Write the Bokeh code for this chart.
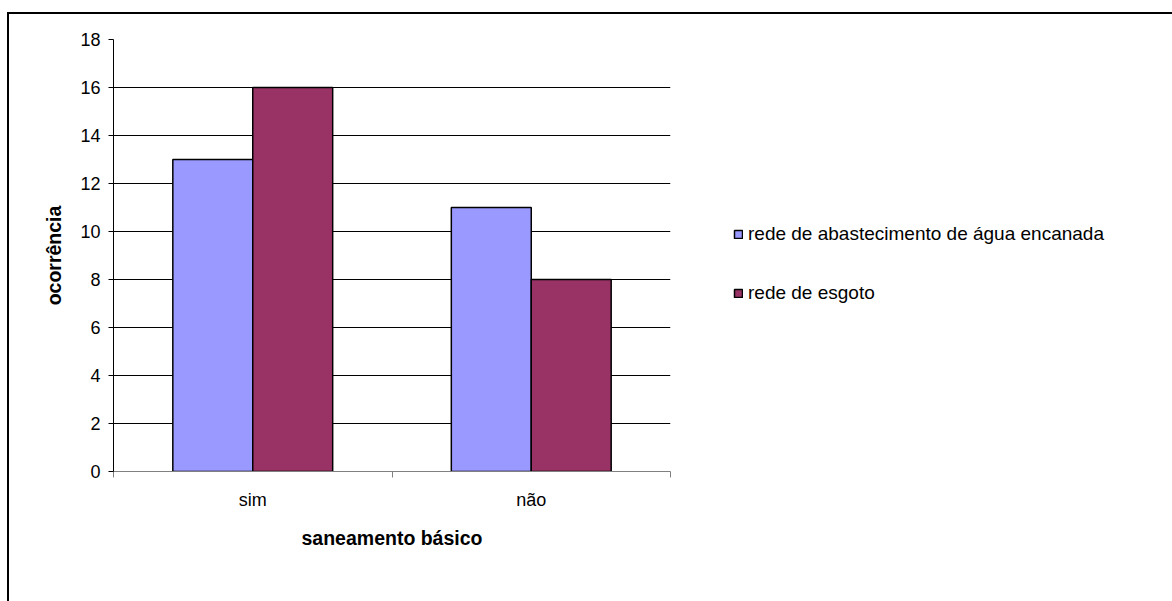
from bokeh.plotting import figure
from bokeh.models import (FixedTicker, Legend, LegendItem, ColumnDataSource,
                          Range1d, InlineStyleSheet)
from bokeh.transform import dodge
from bokeh.embed import file_html
from bokeh.resources import INLINE

# ---- data ----
categories = ["sim", "não"]
agua = [13, 11]
esgoto = [16, 8]
series_names = ["rede de abastecimento de água encanada", "rede de esgoto"]
y_ticks = [0, 2, 4, 6, 8, 10, 12, 14, 16, 18]
x_title = "saneamento básico"
y_title = "ocorrência"

FONT = "Liberation Sans"
x_centers = [i + 0.5 for i in range(len(categories))]
x_bounds = list(range(len(categories) + 1))
src = ColumnDataSource(dict(x=x_centers, agua=agua, esgoto=esgoto))

border_css = InlineStyleSheet(css="""
:host { overflow: hidden; }
:host::after { content: ''; position: absolute; left: 7px; top: 12px;
  right: -20px; bottom: -20px; border: 2.5px solid black;
  pointer-events: none; z-index: 10; }
""")

p = figure(frame_width=557, frame_height=432,
           x_range=Range1d(0, len(categories)), y_range=Range1d(0, max(y_ticks)),
           output_backend="svg", toolbar_location=None,
           min_border_left=113, min_border_right=502,
           min_border_top=39, min_border_bottom=130,
           stylesheets=[border_css])
p.outline_line_color = None
p.background_fill_color = "white"
p.border_fill_color = "white"

bw = 0.287
r1 = p.vbar(x=dodge("x", -bw / 2, range=p.x_range), top="agua", width=bw, bottom=0,
            source=src, fill_color="#9999FF", line_color="black", line_width=1.5)
r2 = p.vbar(x=dodge("x", bw / 2, range=p.x_range), top="esgoto", width=bw, bottom=0,
            source=src, fill_color="#993366", line_color="black", line_width=1.5)

# grid
p.xgrid.visible = False
p.ygrid.ticker = FixedTicker(ticks=y_ticks)
p.ygrid.grid_line_color = "black"
p.ygrid.grid_line_width = 1

# y axis
ya = p.yaxis[0]
ya.ticker = FixedTicker(ticks=y_ticks)
ya.axis_line_color = "black"
ya.major_tick_out = 5
ya.major_tick_in = 0
ya.minor_tick_line_color = None
ya.major_label_text_font = FONT
ya.major_label_text_font_size = "18px"
ya.major_label_text_color = "black"
ya.major_label_standoff = 8
ya.axis_label = y_title
ya.axis_label_text_font = FONT
ya.axis_label_text_font_style = "bold"
ya.axis_label_text_font_size = "19.5px"
ya.axis_label_text_color = "black"
ya.axis_label_standoff = 12

# x axis
xa = p.xaxis[0]
xa.ticker = FixedTicker(ticks=x_centers, minor_ticks=x_bounds)
xa.major_label_overrides = {c: lab for c, lab in zip(x_centers, categories)}
xa.axis_line_color = "#808080"
xa.major_tick_out = 0
xa.major_tick_in = 0
xa.minor_tick_out = 6
xa.minor_tick_in = 0
xa.minor_tick_line_color = "#808080"
xa.major_label_text_font = FONT
xa.major_label_text_font_size = "18px"
xa.major_label_text_color = "black"
xa.major_label_standoff = 12
xa.axis_label = x_title
xa.axis_label_text_font = FONT
xa.axis_label_text_font_style = "bold"
xa.axis_label_text_font_size = "19.5px"
xa.axis_label_text_color = "black"
xa.axis_label_standoff = 14

# legend in the right panel
legend = Legend(items=[LegendItem(label=series_names[0], renderers=[r1]),
                       LegendItem(label=series_names[1], renderers=[r2])],
                location=(63, 167), orientation="vertical",
                padding=0, spacing=37,
                glyph_width=10, glyph_height=10, label_height=20,
                label_standoff=5,
                label_text_font=FONT, label_text_font_size="19px",
                label_text_color="black",
                border_line_color=None, background_fill_alpha=0)
legend.margin = 0
p.add_layout(legend, "right")

open("out.html", "w").write(file_html(p, INLINE))
